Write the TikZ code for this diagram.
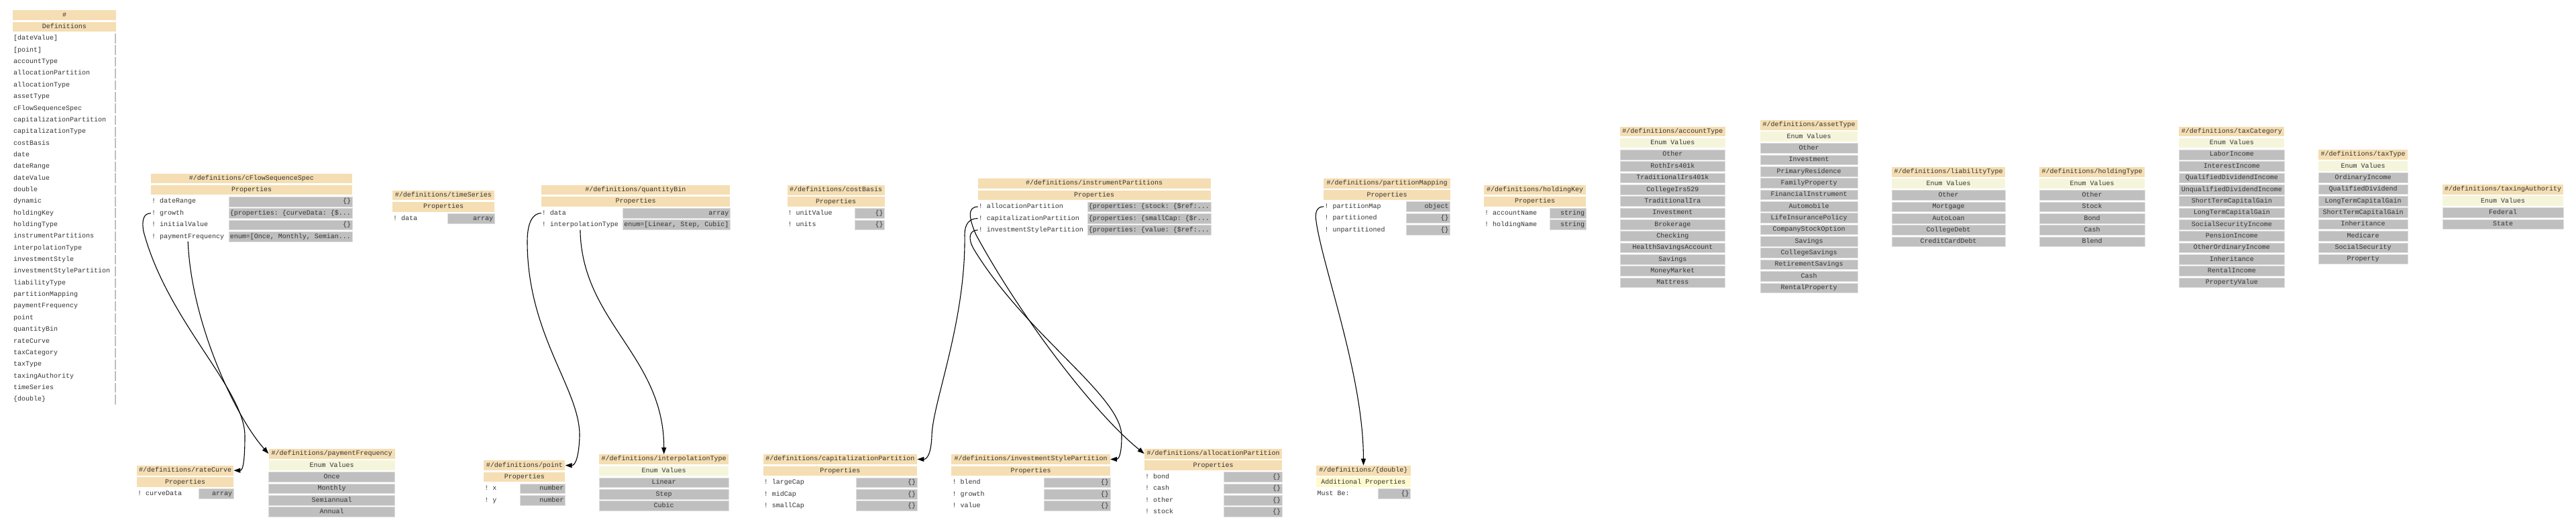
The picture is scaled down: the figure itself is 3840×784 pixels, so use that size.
\documentclass[tikz,border=0pt]{standalone}
\usepackage{fontspec}
\setmonofont{Liberation Mono}
\usepackage{xcolor}
\usepackage{tikz}
\usetikzlibrary{arrows.meta}
\definecolor{headtan}{HTML}{F5DEB3}
\definecolor{enumbeige}{HTML}{F5F5DC}
\definecolor{extralemon}{HTML}{FFFACD}
\definecolor{cellgray}{HTML}{BFBFBF}
\definecolor{celledge}{HTML}{DDDDDD}
\definecolor{inkgray}{HTML}{333333}
\newcommand{\rowgap}{17.35}
% title cell and the cell right below it
\newcommand{\tabletop}[7]{%
  \pgfmathsetmacro\cellw{#3-#2}\pgfmathsetmacro\cellx{(#2+#3)/2}%
  \node[headcell, minimum width=\cellw pt] (#1) at (\cellx,#4) {#5};
  \node[#6, minimum width=\cellw pt] (#1-sub) at (\cellx,#4+\rowgap) {#7};}
% one "! key | value" row
\newcommand{\proprow}[8]{%
  \pgfmathsetmacro\cellw{#4-#3}\pgfmathsetmacro\cellx{(#3+#4)/2}\pgfmathsetmacro\celly{#5+#6*\rowgap}%
  \node[keycell] (#1) at (#2,\celly) {!\ #7};
  \node[valcell, minimum width=\cellw pt] (#1-val) at (\cellx,\celly) {\makebox[\dimexpr\cellw pt-4pt\relax][r]{#8}};}
% enum values under the two top cells
\newcommand{\enumrows}[5]{%
  \pgfmathsetmacro\cellw{#3-#2}\pgfmathsetmacro\cellx{(#2+#3)/2}%
  \foreach \val [count=\k] in {#5}
    \node[valcell, minimum width=\cellw pt] (#1-\k) at (\cellx,#4+\k*\rowgap+\rowgap) {\val};}

\begin{document}
\begin{tikzpicture}[x=1pt, y=-1pt, font=\ttfamily\fontsize{10}{12}\selectfont,
    cell/.style={rectangle, inner xsep=0pt, inner ysep=0pt, minimum height=14.6pt,
      text height=6.6pt, text depth=1.7pt, text=inkgray},
    headcell/.style={cell, fill=headtan},
    enumcell/.style={cell, fill=enumbeige},
    extracell/.style={cell, fill=extralemon},
    valcell/.style={cell, fill=cellgray, draw=celledge, line width=0.6pt},
    keycell/.style={cell, anchor=west, inner xsep=1pt},
    stub/.style={cell, fill=cellgray, minimum width=2.6pt},
    link/.style={line width=1.1pt, -{Triangle[length=10pt, width=7pt]}}]
    \fill[white] (0,0) rectangle (3840,784);
    \useasboundingbox (0,0) rectangle (3840,784);

    % Root list of definitions
    \tabletop{root}{19}{173}{22.75}{\#}{headcell}{Definitions}
    \foreach \rootkey [count=\k from 0] in {{[dateValue]}, {[point]}, accountType, allocationPartition,
        allocationType, assetType, cFlowSequenceSpec, capitalizationPartition, capitalizationType,
        costBasis, date, dateRange, dateValue, double, dynamic, holdingKey, holdingType,
        instrumentPartitions, interpolationType, investmentStyle, investmentStylePartition,
        liabilityType, partitionMapping, paymentFrequency, point, quantityBin, rateCurve,
        taxCategory, taxType, taxingAuthority, timeSeries, {\{double\}}}{
      \node[keycell] (root-\k) at (19,57.45+\k*\rowgap) {\rootkey};
      \node[stub] (root-\k-val) at (171.8,57.45+\k*\rowgap) {};}

    % Property tables, upper row
    \tabletop{cflow}{225}{525}{265.8}{\#/definitions/cFlowSequenceSpec}{headcell}{Properties}
    \proprow{cflow-range}{225}{341}{525}{265.8}{2}{dateRange}{\{\}}
    \proprow{cflow-growth}{225}{341}{525}{265.8}{3}{growth}{\{properties: \{curveData: \{\$...}
    \proprow{cflow-initial}{225}{341}{525}{265.8}{4}{initialValue}{\{\}}
    \proprow{cflow-payfreq}{225}{341}{525}{265.8}{5}{paymentFrequency}{enum=[Once, Monthly, Semian...}

    \tabletop{timeseries}{585}{737}{291}{\#/definitions/timeSeries}{headcell}{Properties}
    \proprow{timeseries-data}{585}{667}{737}{291}{2}{data}{array}

    \tabletop{qbin}{806.7}{1088.3}{283}{\#/definitions/quantityBin}{headcell}{Properties}
    \proprow{qbin-data}{806.7}{928}{1088.3}{283}{2}{data}{array}
    \proprow{qbin-interp}{806.7}{928}{1088.3}{283}{3}{interpolationType}{enum=[Linear, Step, Cubic]}

    \tabletop{costbasis}{1173.5}{1318.7}{283.3}{\#/definitions/costBasis}{headcell}{Properties}
    \proprow{costbasis-unitvalue}{1173.5}{1274.5}{1318.7}{283.3}{2}{unitValue}{\{\}}
    \proprow{costbasis-units}{1173.5}{1274.5}{1318.7}{283.3}{3}{units}{\{\}}

    \tabletop{ip}{1457.6}{1804.8}{273.5}{\#/definitions/instrumentPartitions}{headcell}{Properties}
    \proprow{ip-alloc}{1457.6}{1621.7}{1804.8}{273.5}{2}{allocationPartition}{\{properties: \{stock: \{\$ref:...}
    \proprow{ip-cap}{1457.6}{1621.7}{1804.8}{273.5}{3}{capitalizationPartition}{\{properties: \{smallCap: \{\$r...}
    \proprow{ip-inv}{1457.6}{1621.7}{1804.8}{273.5}{4}{investmentStylePartition}{\{properties: \{value: \{\$ref:...}

    \tabletop{pmap}{1973.3}{2161.7}{273.2}{\#/definitions/partitionMapping}{headcell}{Properties}
    \proprow{pmap-map}{1973.3}{2096}{2161.7}{273.2}{2}{partitionMap}{object}
    \proprow{pmap-parted}{1973.3}{2096}{2161.7}{273.2}{3}{partitioned}{\{\}}
    \proprow{pmap-unparted}{1973.3}{2096}{2161.7}{273.2}{4}{unpartitioned}{\{\}}

    \tabletop{holdingkey}{2212}{2364}{283}{\#/definitions/holdingKey}{headcell}{Properties}
    \proprow{holdingkey-account}{2212}{2310.7}{2364}{283}{2}{accountName}{string}
    \proprow{holdingkey-holding}{2212}{2310.7}{2364}{283}{3}{holdingName}{string}

    % Enum tables, upper row
    \tabletop{accounttype}{2415}{2571.7}{195.8}{\#/definitions/accountType}{enumcell}{Enum Values}
    \enumrows{accounttype}{2415}{2571.7}{195.8}{Other, RothIrs401k, TraditionalIrs401k, CollegeIrs529,
      TraditionalIra, Investment, Brokerage, Checking, HealthSavingsAccount, Savings, MoneyMarket, Mattress}

    \tabletop{assettype}{2624}{2769}{186.2}{\#/definitions/assetType}{enumcell}{Enum Values}
    \enumrows{assettype}{2624}{2769}{186.2}{Other, Investment, PrimaryResidence, FamilyProperty,
      FinancialInstrument, Automobile, LifeInsurancePolicy, CompanyStockOption, Savings,
      CollegeSavings, RetirementSavings, Cash, RentalProperty}

    \tabletop{liabilitytype}{2820}{2989.3}{256.2}{\#/definitions/liabilityType}{enumcell}{Enum Values}
    \enumrows{liabilitytype}{2820}{2989.3}{256.2}{Other, Mortgage, AutoLoan, CollegeDebt, CreditCardDebt}

    \tabletop{holdingtype}{3040}{3197}{256.2}{\#/definitions/holdingType}{enumcell}{Enum Values}
    \enumrows{holdingtype}{3040}{3197}{256.2}{Other, Stock, Bond, Cash, Blend}

    \tabletop{taxcategory}{3248.2}{3405.3}{195.8}{\#/definitions/taxCategory}{enumcell}{Enum Values}
    \enumrows{taxcategory}{3248.2}{3405.3}{195.8}{LaborIncome, InterestIncome, QualifiedDividendIncome,
      UnqualifiedDividendIncome, ShortTermCapitalGain, LongTermCapitalGain, SocialSecurityIncome,
      PensionIncome, OtherOrdinaryIncome, Inheritance, RentalIncome, PropertyValue}

    \tabletop{taxtype}{3455.9}{3589.3}{230.3}{\#/definitions/taxType}{enumcell}{Enum Values}
    \enumrows{taxtype}{3455.9}{3589.3}{230.3}{OrdinaryIncome, QualifiedDividend, LongTermCapitalGain,
      ShortTermCapitalGain, Inheritance, Medicare, SocialSecurity, Property}

    \tabletop{taxauth}{3640.8}{3821.2}{282.2}{\#/definitions/taxingAuthority}{enumcell}{Enum Values}
    \enumrows{taxauth}{3640.8}{3821.2}{282.2}{Federal, State}

    % Lower row (targets)
    \tabletop{ratecurve}{204}{348.2}{701.2}{\#/definitions/rateCurve}{headcell}{Properties}
    \proprow{ratecurve-data}{204}{296.5}{348.2}{701.2}{2}{curveData}{array}

    \tabletop{payfreq}{400.5}{588.6}{676.2}{\#/definitions/paymentFrequency}{enumcell}{Enum Values}
    \enumrows{payfreq}{400.5}{588.6}{676.2}{Once, Monthly, Semiannual, Annual}

    \tabletop{point}{721.2}{842.4}{693.7}{\#/definitions/point}{headcell}{Properties}
    \proprow{point-x}{721.2}{774.8}{842.4}{693.7}{2}{x}{number}
    \proprow{point-y}{721.2}{774.8}{842.4}{693.7}{3}{y}{number}

    \tabletop{interp}{893.4}{1086}{684.5}{\#/definitions/interpolationType}{enumcell}{Enum Values}
    \enumrows{interp}{893.4}{1086}{684.5}{Linear, Step, Cubic}

    \tabletop{capp}{1137.7}{1367.2}{684.5}{\#/definitions/capitalizationPartition}{headcell}{Properties}
    \proprow{capp-large}{1137.7}{1276.7}{1367.2}{684.5}{2}{largeCap}{\{\}}
    \proprow{capp-mid}{1137.7}{1276.7}{1367.2}{684.5}{3}{midCap}{\{\}}
    \proprow{capp-small}{1137.7}{1276.7}{1367.2}{684.5}{4}{smallCap}{\{\}}

    \tabletop{isp}{1418.3}{1654.9}{684.5}{\#/definitions/investmentStylePartition}{headcell}{Properties}
    \proprow{isp-blend}{1418.3}{1556}{1654.9}{684.5}{2}{blend}{\{\}}
    \proprow{isp-growth}{1418.3}{1556}{1654.9}{684.5}{3}{growth}{\{\}}
    \proprow{isp-value}{1418.3}{1556}{1654.9}{684.5}{4}{value}{\{\}}

    \tabletop{allocp}{1705.9}{1911.2}{676.2}{\#/definitions/allocationPartition}{headcell}{Properties}
    \proprow{allocp-bond}{1705.9}{1823.9}{1911.2}{676.2}{2}{bond}{\{\}}
    \proprow{allocp-cash}{1705.9}{1823.9}{1911.2}{676.2}{3}{cash}{\{\}}
    \proprow{allocp-other}{1705.9}{1823.9}{1911.2}{676.2}{4}{other}{\{\}}
    \proprow{allocp-stock}{1705.9}{1823.9}{1911.2}{676.2}{5}{stock}{\{\}}

    \tabletop{double}{1962.3}{2102.6}{701.2}{\#/definitions/\{double\}}{extracell}{Additional Properties}
    \node[keycell] (double-must) at (1962.3,735.9) {Must Be:};
    \node[valcell, minimum width=47.9pt] (double-must-val) at (2078.65,735.9) {\makebox[43.9pt][r]{\{\}}};

    % References
    \draw[link] (cflow-growth.west) .. controls (214,317.85) and (211,328) .. (214,345)
      .. controls (250,480) and (365,580) .. (365,650) .. controls (365,688) and (362,701.2) .. (ratecurve.east);
    \draw[link] (cflow-payfreq.south) .. controls (285,480) and (350,620) .. (payfreq.west);
    \draw[link] (qbin-data.west) .. controls (795,318) and (786,330) .. (786,360)
      .. controls (786,500) and (865,580) .. (864,650) .. controls (863,680) and (858,693.7) .. (point.east);
    \draw[link] (qbin-interp.south) .. controls (867,480) and (989.7,530) .. (interp.north);
    \draw[link] (ip-alloc.west) .. controls (1442,308.2) and (1444,325) .. (1455,350)
      .. controls (1520,470) and (1630,615) .. (allocp.west);
    \draw[link] (ip-cap.west) .. controls (1444,325.5) and (1438,335) .. (1438,350)
      .. controls (1440,480) and (1390,600) .. (1389,650) .. controls (1388,676) and (1382,684.5) .. (capp.east);
    \draw[link] (ip-inv.west) .. controls (1445,342.9) and (1442,355) .. (1452,372)
      .. controls (1530,500) and (1672,590) .. (1672,650) .. controls (1672,676) and (1668,684.5) .. (isp.east);
    \draw[link] (pmap-map.west) .. controls (1962,307.9) and (1960,318) .. (1962,330)
      .. controls (1972,400) and (2032.4,560) .. (double.north);
\end{tikzpicture}
\end{document}
